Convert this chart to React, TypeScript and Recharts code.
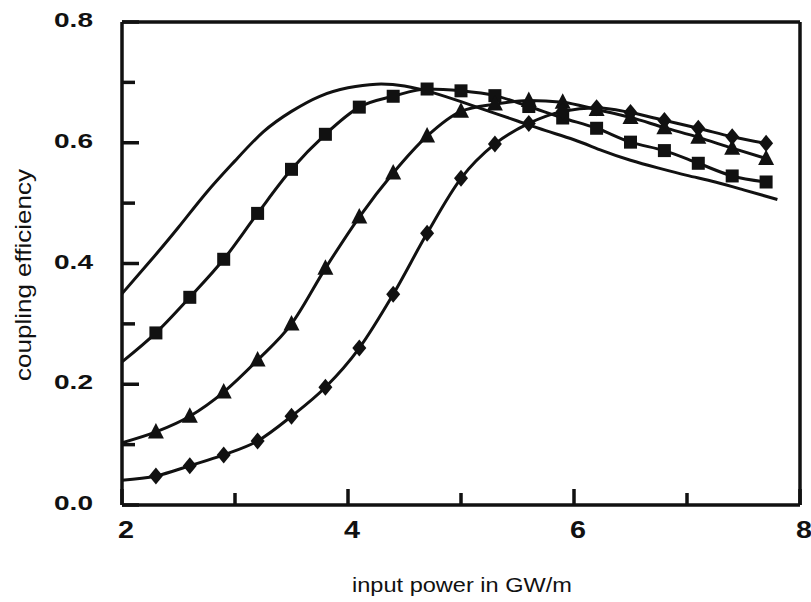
import { LineChart, Line, XAxis, YAxis, ReferenceLine } from 'recharts'

// marker positions (input power, GW/m) shared by the three measured series
const markerX = [2.3, 2.6, 2.9, 3.2, 3.5, 3.8, 4.1, 4.4, 4.7, 5.0, 5.3, 5.6, 5.9, 6.2, 6.5, 6.8, 7.1, 7.4, 7.7]
const squareY = [0.285, 0.344, 0.407, 0.483, 0.556, 0.614, 0.659, 0.677, 0.689, 0.686, 0.678, 0.66, 0.641, 0.624, 0.601, 0.587, 0.566, 0.545, 0.535]
const triangleY = [0.121, 0.147, 0.187, 0.24, 0.3, 0.392, 0.477, 0.55, 0.611, 0.652, 0.664, 0.67, 0.667, 0.655, 0.642, 0.625, 0.609, 0.591, 0.574]
const diamondY = [0.048, 0.065, 0.083, 0.106, 0.147, 0.195, 0.26, 0.349, 0.45, 0.541, 0.598, 0.632, 0.652, 0.658, 0.65, 0.637, 0.624, 0.61, 0.599]
// where each fitted curve meets the left axis (x = 2)
const startX = 2
const squareStart = 0.237
const triangleStart = 0.103
const diamondStart = 0.041

// curve without markers
const plainX = [2.0, 2.25, 2.5, 2.75, 3.0, 3.25, 3.5, 3.75, 4.0, 4.25, 4.5, 4.75, 5.0, 5.25, 5.5, 5.75, 6.0, 6.25, 6.5, 6.75, 7.0, 7.25, 7.5, 7.8]
const plainY = [0.35, 0.404, 0.46, 0.518, 0.57, 0.618, 0.652, 0.677, 0.691, 0.697, 0.694, 0.683, 0.668, 0.652, 0.636, 0.62, 0.605, 0.587, 0.571, 0.558, 0.546, 0.535, 0.522, 0.506]

const xTicks = [2, 3, 4, 5, 6, 7, 8]
const yTicks = [0, 0.1, 0.2, 0.3, 0.4, 0.5, 0.6, 0.7, 0.8]

function withStart(x0: number, y0: number, ys: number[]) {
  return [{ x: x0, y: y0, mark: false }, ...markerX.map((x, i) => ({ x, y: ys[i], mark: true }))]
}

const squareData = withStart(startX, squareStart, squareY)
const triangleData = withStart(startX, triangleStart, triangleY)
const diamondData = withStart(startX, diamondStart, diamondY)
const plainData = plainX.map((x, i) => ({ x, y: plainY[i] }))

const INK = '#111'
const LINE_W = 3

// eslint-disable-next-line @typescript-eslint/no-explicit-any
function SquareDot(props: any) {
  const { cx, cy, payload } = props
  if (!payload.mark) return <g />
  return <rect x={cx - 6.5} y={cy - 6.5} width={13} height={13} fill={INK} />
}

// eslint-disable-next-line @typescript-eslint/no-explicit-any
function TriangleDot(props: any) {
  const { cx, cy, payload } = props
  if (!payload.mark) return <g />
  return <polygon points={`${cx},${cy - 9} ${cx + 8},${cy + 6.5} ${cx - 8},${cy + 6.5}`} fill={INK} />
}

// eslint-disable-next-line @typescript-eslint/no-explicit-any
function DiamondDot(props: any) {
  const { cx, cy, payload } = props
  if (!payload.mark) return <g />
  return <polygon points={`${cx},${cy - 8.5} ${cx + 7},${cy} ${cx},${cy + 8.5} ${cx - 7},${cy}`} fill={INK} />
}

// eslint-disable-next-line @typescript-eslint/no-explicit-any
function XTick(props: any) {
  const { x, y, payload } = props
  const v = payload.value as number
  const major = v % 2 === 0
  return (
    <g>
      <line x1={x} x2={x} y1={y} y2={y - (major ? 16 : 12)} stroke={INK} strokeWidth={3.5} />
      {major && (
        <text
          x={x + 4}
          y={y + 33}
          textAnchor="middle"
          fill={INK}
          fontFamily="Liberation Sans, Arial, sans-serif"
          fontWeight="bold"
          fontSize={23}
          textLength={16}
          lengthAdjust="spacingAndGlyphs"
        >
          {v}
        </text>
      )}
    </g>
  )
}

// eslint-disable-next-line @typescript-eslint/no-explicit-any
function YTick(props: any) {
  const { x, y, payload } = props
  const v = payload.value as number
  const major = Math.round(v * 10) % 2 === 0
  return (
    <g>
      <line x1={x} x2={x + (major ? 17 : 13)} y1={y} y2={y} stroke={INK} strokeWidth={3.5} />
      {major && (
        <text
          x={x - 29}
          y={y + 5}
          textAnchor="end"
          fill={INK}
          fontFamily="Liberation Sans, Arial, sans-serif"
          fontWeight="bold"
          fontSize={21}
          textLength={39}
          lengthAdjust="spacingAndGlyphs"
        >
          {v.toFixed(1)}
        </text>
      )}
    </g>
  )
}

export default function App() {
  return (
    <div style={{ position: 'absolute', left: 0, top: 0, width: 811, height: 602, background: '#fff' }}>
      <LineChart width={811} height={602} margin={{ top: 22, right: 11, bottom: 0, left: 0 }}>
        <XAxis
          dataKey="x"
          type="number"
          domain={[2, 8]}
          ticks={xTicks}
          interval={0}
          height={97}
          tickSize={0}
          tickMargin={0}
          tickLine={false}
          axisLine={{ stroke: INK, strokeWidth: 3.5 }}
          tick={<XTick />}
          allowDataOverflow
        />
        <YAxis
          type="number"
          domain={[0, 0.8]}
          ticks={yTicks}
          interval={0}
          width={122}
          tickSize={0}
          tickMargin={0}
          tickLine={false}
          axisLine={{ stroke: INK, strokeWidth: 3.5 }}
          tick={<YTick />}
          allowDataOverflow
        />
        <ReferenceLine x={8} stroke={INK} strokeWidth={3.5} />
        <ReferenceLine y={0.8} stroke={INK} strokeWidth={3.5} />
        <Line data={plainData} dataKey="y" type="natural" stroke={INK} strokeWidth={LINE_W} dot={false} activeDot={false} isAnimationActive={false} />
        <Line data={squareData} dataKey="y" type="monotone" stroke={INK} strokeWidth={LINE_W} dot={<SquareDot />} activeDot={false} isAnimationActive={false} />
        <Line data={triangleData} dataKey="y" type="monotone" stroke={INK} strokeWidth={LINE_W} dot={<TriangleDot />} activeDot={false} isAnimationActive={false} />
        <Line data={diamondData} dataKey="y" type="monotone" stroke={INK} strokeWidth={LINE_W} dot={<DiamondDot />} activeDot={false} isAnimationActive={false} />
      </LineChart>
      <svg width={811} height={602} style={{ position: 'absolute', left: 0, top: 0, pointerEvents: 'none' }}>
        <text
          x={462}
          y={592}
          textAnchor="middle"
          fill={INK}
          fontFamily="Liberation Sans, Arial, sans-serif"
          fontSize={20}
          textLength={220}
          lengthAdjust="spacingAndGlyphs"
        >
          input power in GW/m
        </text>
        <text
          transform="translate(31 275) rotate(-90)"
          textAnchor="middle"
          fill={INK}
          fontFamily="Liberation Sans, Arial, sans-serif"
          fontSize={22}
          textLength={212}
          lengthAdjust="spacingAndGlyphs"
        >
          coupling efficiency
        </text>
      </svg>
    </div>
  )
}
